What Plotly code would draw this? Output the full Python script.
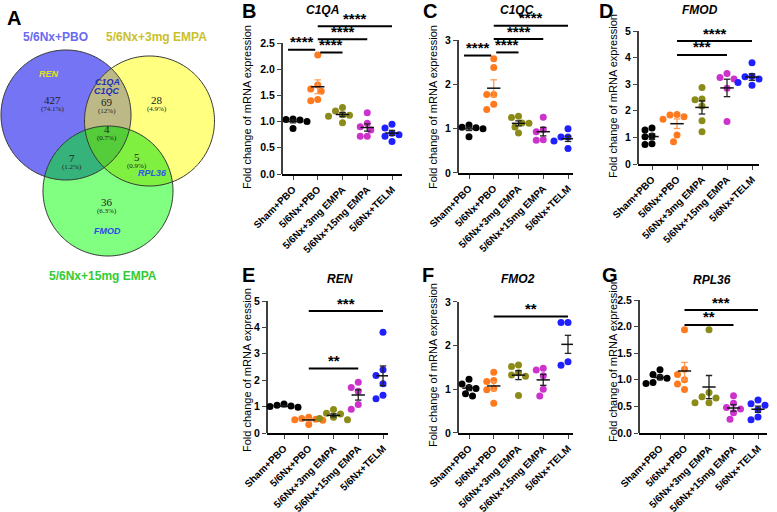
import numpy as np
import plotly.graph_objects as go
from decimal import Decimal, ROUND_HALF_UP

# ---------------- data ----------------
groups = ["Sham+PBO", "5/6Nx+PBO", "5/6Nx+3mg EMPA", "5/6Nx+15mg EMPA", "5/6Nx+TELM"]
group_colors = ["#000000", "#ff7a1f", "#8b8b1a", "#cc33cc", "#1f1fff"]

C1QA = [[1.05, 1.04, 1.03, 1.02, 1.00, 0.87],
        [2.27, 1.70, 1.62, 1.58, 1.42, 1.40],
        [1.27, 1.20, 1.13, 1.12, 1.10, 0.98],
        [1.17, 0.97, 0.90, 0.84, 0.72, 0.72],
        [0.95, 0.88, 0.78, 0.75, 0.72, 0.62]]
C1QC = [[1.08, 1.03, 1.02, 1.02, 1.00, 0.82],
        [2.58, 2.38, 1.77, 1.77, 1.55, 1.43],
        [1.28, 1.25, 1.13, 1.12, 1.04, 0.90],
        [1.26, 0.98, 0.93, 0.75, 0.74],
        [1.00, 0.81, 0.81, 0.74, 0.72, 0.55]]
FMOD = [[1.35, 1.28, 1.05, 1.02, 0.76, 0.73],
        [1.86, 1.84, 1.78, 1.68, 1.09, 0.84],
        [2.88, 2.44, 2.42, 2.18, 1.63, 1.21],
        [3.40, 3.25, 3.20, 2.85, 1.60],
        [3.81, 3.30, 3.28, 3.20, 3.06, 2.96]]
REN = [[1.10, 1.05, 1.02, 1.00, 0.98, 0.95],
       [0.60, 0.55, 0.52, 0.50, 0.48, 0.32],
       [0.89, 0.75, 0.72, 0.60, 0.55, 0.50],
       [1.92, 1.72, 1.58, 1.08, 0.90],
       [3.82, 2.40, 2.18, 1.87, 1.43, 1.30]]
FMO2 = [[1.23, 1.12, 1.04, 1.02, 0.90, 0.85],
        [1.39, 1.20, 1.18, 1.02, 0.99, 0.68],
        [1.56, 1.52, 1.38, 1.33, 1.30, 0.86],
        [1.48, 1.44, 1.31, 1.00, 0.85],
        [2.53, 2.53, 2.41, 1.63, 1.55, 1.53]]
RPL36 = [[1.19, 1.10, 1.05, 1.03, 0.95, 0.93],
         [1.94, 1.20, 1.10, 1.00, 0.92, 0.82],
         [1.94, 0.76, 0.68, 0.66, 0.57, 0.57],
         [0.70, 0.56, 0.48, 0.45, 0.38, 0.26],
         [0.62, 0.55, 0.52, 0.44, 0.30, 0.25]]

# significance comparisons: (group a, group b, label, bar height)
C1QA_sig = [(0, 1, "****", 2.37), (1, 2, "****", 2.32), (1, 3, "****", 2.57), (1, 4, "****", 2.82)]
C1QC_sig = [(0, 1, "****", 2.65), (1, 2, "****", 2.72), (1, 3, "****", 3.02), (1, 4, "****", 3.32)]
FMOD_sig = [(1, 3, "***", 4.10), (1, 4, "****", 4.62)]
REN_sig = [(1, 3, "**", 2.44), (1, 4, "***", 4.62)]
FMO2_sig = [(1, 4, "**", 2.67)]
RPL36_sig = [(1, 3, "**", 2.03), (1, 4, "***", 2.31)]

ticks_25 = [0.0, 0.5, 1.0, 1.5, 2.0, 2.5]
ticks_3 = [0, 1, 2, 3]
ticks_5 = [0, 1, 2, 3, 4, 5]

# Venn data
venn_sets = ["5/6Nx+PBO", "5/6Nx+3mg EMPA", "5/6Nx+15mg EMPA"]
venn_regions = ["100", "110", "010", "111", "101", "011", "001"]
venn_counts = [427, 69, 28, 4, 7, 5, 36]
venn_genes = {"100": ["REN"], "110": ["C1QA", "C1QC"], "011": ["RPL36"], "001": ["FMOD"]}

# ---------------- geometry helpers ----------------
W, H = 777, 512
FONT = "Liberation Sans, Arial, sans-serif"


def fx(px):
    return px / W


def fy(py):
    return 1 - py / H


fig = go.Figure()
shapes = []
annotations = []


def ptext(x, y, text, size, color="black", family=FONT, angle=0):
    annotations.append(dict(x=fx(x), y=fy(y), xref="paper", yref="paper", text=text, showarrow=False,
                            xanchor="center", yanchor="middle", textangle=angle,
                            font=dict(family=family, size=size, color=color)))


# ---------------- Venn diagram (panel A) ----------------
circles = [(66, 115, 65), (149.5, 121, 65), (108, 191, 65)]
base_cols = ["#7474f4", "#ffff80", "#80ff80"]
lens_cols = {"110": "#bdb987", "101": "#35b37a", "011": "#80f040", "111": "#55cc3a"}


def circle_poly(c, n=240):
    t = np.linspace(0, 2 * np.pi, n, endpoint=False)
    return [(c[0] + c[2] * np.cos(a), c[1] + c[2] * np.sin(a)) for a in t]


def clip(subject, clipper):
    area = 0.0
    for i in range(len(clipper)):
        x1, y1 = clipper[i]
        x2, y2 = clipper[(i + 1) % len(clipper)]
        area += x1 * y2 - x2 * y1
    s = 1 if area > 0 else -1
    out = subject
    for i in range(len(clipper)):
        a = clipper[i]
        b = clipper[(i + 1) % len(clipper)]
        inp = out
        out = []
        if not inp:
            break

        def inside(p):
            return s * ((b[0] - a[0]) * (p[1] - a[1]) - (b[1] - a[1]) * (p[0] - a[0])) >= 0

        def inter(p, q):
            dx1, dy1 = q[0] - p[0], q[1] - p[1]
            dx2, dy2 = b[0] - a[0], b[1] - a[1]
            den = dx1 * dy2 - dy1 * dx2
            t = ((a[0] - p[0]) * dy2 - (a[1] - p[1]) * dx2) / den
            return (p[0] + t * dx1, p[1] + t * dy1)

        prev = inp[-1]
        for cur in inp:
            if inside(cur):
                if not inside(prev):
                    out.append(inter(prev, cur))
                out.append(cur)
            elif inside(prev):
                out.append(inter(prev, cur))
            prev = cur
    return out


def poly_path(poly):
    return "M " + " L ".join(f"{fx(x):.5f},{fy(y):.5f}" for x, y in poly) + " Z"


polys = [circle_poly(c) for c in circles]
for p, col in zip(polys, base_cols):
    shapes.append(dict(type="path", xref="paper", yref="paper", path=poly_path(p),
                       fillcolor=col, line=dict(width=0), layer="below"))
for key, (i, j) in {"110": (0, 1), "101": (0, 2), "011": (1, 2)}.items():
    shapes.append(dict(type="path", xref="paper", yref="paper", path=poly_path(clip(polys[i], polys[j])),
                       fillcolor=lens_cols[key], line=dict(width=0), layer="below"))
shapes.append(dict(type="path", xref="paper", yref="paper",
                   path=poly_path(clip(clip(polys[0], polys[1]), polys[2])),
                   fillcolor=lens_cols["111"], line=dict(width=0), layer="below"))
for p in polys:
    shapes.append(dict(type="path", xref="paper", yref="paper", path=poly_path(p),
                       fillcolor="rgba(0,0,0,0)", line=dict(width=1, color="#333333"), layer="below"))

total = sum(venn_counts)
region_pos = {"100": (52, 100), "110": (107, 102), "010": (157, 100), "111": (107, 129),
              "101": (72, 158), "011": (137, 157), "001": (107, 202)}
SERIF = "Liberation Serif, Times New Roman, serif"
for reg, cnt in zip(venn_regions, venn_counts):
    x, y = region_pos[reg]
    pct = Decimal(cnt * 100) / Decimal(total)
    pct = pct.quantize(Decimal("0.1"), rounding=ROUND_HALF_UP)
    ptxt = f"{pct}".rstrip("0").rstrip(".")
    ptext(x, y, str(cnt), 11, "#222222", SERIF)
    ptext(x, y + 9, f"({ptxt}%)", 7, "#222222", SERIF)

gene_style = {"REN": ((49, 74), "#e6e020"), "C1QA": ((107, 82), "#1f2fb8"), "C1QC": ((107, 91), "#1f2fb8"),
              "RPL36": ((152, 173), "#2f55e8"), "FMOD": ((107, 231), "#2f46e8")}
for reg, genes in venn_genes.items():
    for g in genes:
        (x, y), col = gene_style[g]
        ptext(x, y, f"<b><i>{g}</i></b>", 9, col)

set_label_pos = [((55, 37), "#6a6af0"), ((156, 37), "#c9c12c"), ((103, 276), "#33cc33")]
for name, ((x, y), col) in zip(venn_sets, set_label_pos):
    ptext(x, y, f"<b>{name}</b>", 12, col)
ptext(14, 18, "<b>A</b>", 20)

# ---------------- scatter-dot panels ----------------
panels = [
    dict(letter="B", gene="C1QA", data=C1QA, sig=C1QA_sig, ticks=ticks_25, fmt="{:.1f}",
         xl=282, xr=402, c0=293, sp=24.75, y0=174, sc=52.4, top=3.2, title=(322, 10), lab=(249, 11), yt=(247, 107)),
    dict(letter="C", gene="C1QC", data=C1QC, sig=C1QC_sig, ticks=ticks_3, fmt="{:d}",
         xl=458, xr=573, c0=469, sp=24.75, y0=173, sc=44.33, top=3.7, title=(517, 10), lab=(430, 11), yt=(433, 107)),
    dict(letter="D", gene="FMOD", data=FMOD, sig=FMOD_sig, ticks=ticks_5, fmt="{:d}",
         xl=638, xr=759, c0=652, sp=25.0, y0=164, sc=26.6, top=5.3, title=(700, 10), lab=(606, 11), yt=(613, 96)),
    dict(letter="E", gene="REN", data=REN, sig=REN_sig, ticks=ticks_5, fmt="{:d}",
         xl=267, xr=388, c0=284, sp=24.75, y0=433, sc=26.4, top=5.3, title=(340, 279), lab=(248, 275), yt=(247, 370)),
    dict(letter="F", gene="FMO2", data=FMO2, sig=FMO2_sig, ticks=ticks_3, fmt="{:d}",
         xl=458, xr=573, c0=469, sp=24.75, y0=433, sc=43.67, top=3.3, title=(518, 279), lab=(428, 275), yt=(433, 365)),
    dict(letter="G", gene="RPL36", data=RPL36, sig=RPL36_sig, ticks=ticks_25, fmt="{:.1f}",
         xl=639, xr=767, c0=660, sp=24.5, y0=433, sc=53.2, top=2.6, title=(712, 280), lab=(610, 275), yt=(613, 360)),
]


def swarm(vals, sc, sp, d=7.0):
    order = np.argsort(-np.asarray(vals), kind="stable")
    placed = []
    offs = [0.0] * len(vals)
    cands = [0.0]
    for k in range(1, 12):
        cands += [-k * d / 2, k * d / 2]
    for idx in order:
        ypx = vals[idx] * sc
        for c in cands:
            if all((c - px) ** 2 + (ypx - py) ** 2 >= (d * 0.98) ** 2 for px, py in placed):
                placed.append((c, ypx))
                offs[idx] = c / sp
                break
    return offs


for n, P in enumerate(panels, start=1):
    xa = "x" if n == 1 else f"x{n}"
    ya = "y" if n == 1 else f"y{n}"
    xr0 = (P["xl"] - P["c0"]) / P["sp"]
    xr1 = (P["xr"] - P["c0"]) / P["sp"]
    dom_x = [fx(P["xl"]), fx(P["xr"])]
    dom_y = [fy(P["y0"]), fy(P["y0"] - P["sc"] * P["top"])]
    tickfmt = [P["fmt"].format(t) for t in P["ticks"]]
    fig.update_layout(**{
        ("xaxis" if n == 1 else f"xaxis{n}"): dict(
            domain=dom_x, anchor=ya, range=[xr0, xr1], tickmode="array", tickvals=list(range(len(groups))),
            ticktext=[f"<b>{g}</b>" for g in groups], tickangle=-45, ticks="outside", ticklen=4, tickwidth=1.3,
            showline=True, linewidth=1.5, linecolor="black", showgrid=False, zeroline=False, automargin=False,
            tickfont=dict(family=FONT, size=10, color="black")),
        ("yaxis" if n == 1 else f"yaxis{n}"): dict(
            domain=dom_y, anchor=xa, range=[0, P["top"]], tickmode="array", tickvals=P["ticks"],
            ticktext=[f"<b>{t}</b>" for t in tickfmt], ticks="outside", ticklen=4, tickwidth=1.3,
            showline=False, showgrid=False, zeroline=False, automargin=False,
            tickfont=dict(family=FONT, size=10.5, color="black")),
    })
    # y axis line up to the top tick
    shapes.append(dict(type="line", xref=f"{xa} domain", yref=ya, x0=0, x1=0, y0=0, y1=P["ticks"][-1],
                       line=dict(color="black", width=1.5)))
    for gi, vals in enumerate(P["data"]):
        offs = swarm(vals, P["sc"], P["sp"])
        fig.add_trace(go.Scatter(x=[gi + o for o in offs], y=vals, mode="markers", xaxis=xa, yaxis=ya,
                                 marker=dict(size=7, color=group_colors[gi], line=dict(width=0)),
                                 showlegend=False, hoverinfo="skip", cliponaxis=False))
        v = np.asarray(vals)
        m = v.mean()
        sem = v.std(ddof=1) / np.sqrt(len(v))
        ecol = "#ff9a50" if gi == 1 else "#222222"
        fig.add_trace(go.Scatter(
            x=[gi, gi, None, gi - 0.13, gi + 0.13, None, gi - 0.13, gi + 0.13],
            y=[m - sem, m + sem, None, m + sem, m + sem, None, m - sem, m - sem],
            mode="lines", line=dict(color=ecol, width=1.3), xaxis=xa, yaxis=ya,
            showlegend=False, hoverinfo="skip"))
        fig.add_trace(go.Scatter(x=[gi - 0.27, gi + 0.27], y=[m, m], mode="lines",
                                 line=dict(color="#111111", width=1.5), xaxis=xa, yaxis=ya,
                                 showlegend=False, hoverinfo="skip"))
    for a, b, lab, yv in P["sig"]:
        x0 = a - 0.2 if a == 0 else (a + 0.1 if b - a == 1 else a)
        x1 = b - 0.1 if (a == 0) else b
        fig.add_trace(go.Scatter(x=[x0, x1], y=[yv, yv], mode="lines", line=dict(color="black", width=2),
                                 xaxis=xa, yaxis=ya, showlegend=False, hoverinfo="skip", cliponaxis=False))
        annotations.append(dict(x=(x0 + x1) / 2, y=yv, xref=xa, yref=ya, text=f"<b>{lab}</b>", showarrow=False,
                                xanchor="center", yanchor="middle", yshift=8,
                                font=dict(family=FONT, size=15, color="black")))
    ptext(*P["title"], f"<b><i>{P['gene']}</i></b>", 12)
    ptext(*P["lab"], f"<b>{P['letter']}</b>", 20)
    ptext(*P["yt"], "Fold change of mRNA expression", 11, angle=-90)

fig.update_layout(width=W, height=H, margin=dict(l=0, r=0, t=0, b=0), paper_bgcolor="white",
                  plot_bgcolor="rgba(0,0,0,0)", shapes=shapes, annotations=annotations, showlegend=False)
fig.write_html("out.html", config={"displayModeBar": False},
               post_script="document.body.style.margin='0px';document.body.style.padding='0px';")
